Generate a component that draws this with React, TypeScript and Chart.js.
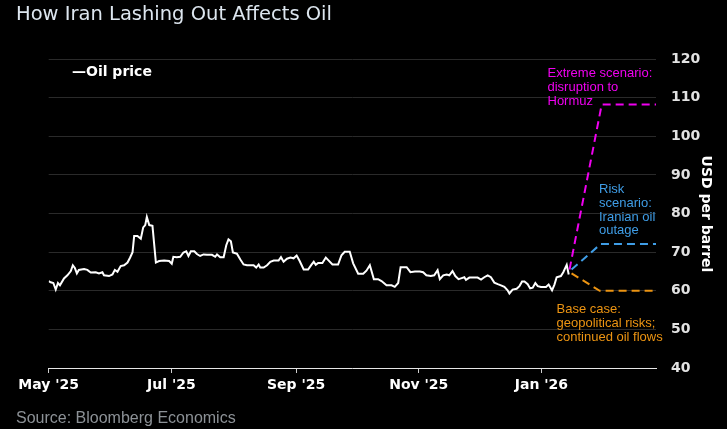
import React, { useEffect, useRef } from "react";
import { Chart, registerables } from "chart.js";

Chart.register(...registerables);

// ---- Data ----
const TITLE = "How Iran Lashing Out Affects Oil";
const SOURCE = "Source: Bloomberg Economics";
const Y_TITLE = "USD per barrel";
const LEGEND_LABEL = "\u2014Oil price";

// days since 1 May 2025
const xTickDays = [0, 61, 123, 184, 245];
const xTickLabels = ["May '25", "Jul '25", "Sep '25", "Nov '25", "Jan '26"];
const xMin = 0;
const xMax = 302;
const yMin = 40;
const yMax = 120;
const yStep = 10;

const oilDay = [
  0, 1, 2.3, 3.5, 4.6, 5.6, 7.6, 9.3, 11, 12, 13, 14, 15, 17.6, 19.2, 20.9, 23.4, 25, 26.7, 27.5,
  30, 31.7, 32.9, 34.2, 35.8, 37.5, 39.2, 40.5, 41.7, 42.5, 44.1, 45.8, 47, 48, 48.8, 50, 51.6,
  53.3, 54.9, 57.4, 59.9, 61.2, 62, 63.7, 65.4, 67, 68.4, 69.5, 70.7, 72.4, 73.7, 75.3, 77, 78.7,
  81.2, 82.8, 83.7, 85.3, 87, 88.3, 89.4, 90.6, 91.6, 93.6, 95.3, 96.9, 98.6, 101.9, 103.2, 104.4,
  105.2, 106.9, 108.6, 110.2, 111.9, 114.3, 115.5, 116.8, 118.5, 120.2, 121.8, 123.3, 124.8,
  126.8, 129, 130.6, 131.8, 132.8, 134, 136.1, 137.8, 138.9, 141.1, 143.9, 145.6, 147.2, 149.7,
  151.4, 153.9, 156.4, 158, 159.7, 161.7, 163.8, 165.5, 168, 170.5, 172.1, 173.8, 175, 178,
  179.9, 182.1, 184.6, 186.2, 187.8, 190, 191.7, 193.4, 194.5, 196.2, 197.9, 199.2, 200.8,
  202.2, 203.8, 205, 206.7, 207.5, 209.2, 211.7, 213.3, 215, 216.6, 218.3, 219.9, 221.6, 223.3,
  224.9, 226.6, 228.2, 229.1, 230.7, 232.7, 234.1, 235.4, 236.6, 238.2, 239.4, 240.7, 242,
  243.2, 244.8, 247.3, 248.6, 250.3, 251.5, 252.6, 254.7, 255.9, 257.6, 258.6,
];
const oilPrice = [
  62.5, 62.2, 62.0, 60.3, 62.0, 61.4, 63.2, 64.0, 65.1, 66.6, 65.9, 64.5, 65.4, 65.6, 65.4, 64.7,
  64.8, 64.5, 64.8, 64.0, 63.8, 64.2, 65.4, 64.9, 66.4, 66.6, 67.3, 68.6, 70.0, 74.2, 74.2, 73.5,
  76.4, 77.0, 79.1, 77.0, 76.8, 67.3, 67.7, 67.8, 67.7, 67.0, 68.8, 68.7, 68.8, 69.9, 70.2, 69.0,
  70.2, 70.2, 69.5, 69.0, 69.4, 69.3, 69.3, 68.8, 69.4, 68.7, 68.7, 71.8, 73.3, 72.8, 69.9, 69.6,
  68.1, 66.8, 66.6, 66.6, 66.0, 66.8, 66.0, 66.0, 66.6, 67.5, 67.8, 67.8, 68.7, 67.5, 68.3, 68.6,
  68.4, 69.1, 67.7, 65.5, 65.5, 66.7, 67.5, 66.7, 67.2, 67.2, 68.6, 68.0, 66.8, 66.8, 69.2, 70.1,
  70.1, 67.1, 64.4, 64.4, 65.2, 66.6, 63.0, 63.0, 62.5, 61.4, 61.4, 61.0, 62.0, 66.1, 66.1, 64.8,
  65.0, 65.0, 64.8, 64.0, 63.8, 64.0, 65.3, 63.0, 64.0, 64.2, 64.0, 65.1, 63.8, 63.0, 63.2, 63.5,
  62.8, 63.4, 63.4, 63.4, 62.9, 63.5, 64.0, 63.5, 62.1, 61.7, 61.4, 61.0, 60.1, 59.3, 60.3, 60.5,
  61.2, 62.4, 62.4, 61.7, 60.6, 60.8, 62.0, 61.2, 61.0, 61.0, 61.6, 60.1, 61.6, 63.5, 63.8, 64.8,
  66.7, 64.2,
];

const extremeDay = [259, 275, 302];
const extremePrice = [65.5, 108.2, 108.2];
const riskDay = [260, 274.5, 302];
const riskPrice = [65.5, 72.1, 72.1];
const baseDay = [260, 274, 302];
const basePrice = [64.5, 60.0, 60.0];

const extremeNote = ["Extreme scenario:", "disruption to", "Hormuz"];
const riskNote = ["Risk", "scenario:", "Iranian oil", "outage"];
const baseNote = ["Base case:", "geopolitical risks;", "continued oil flows"];

// ---- Styles ----
const W = 727;
const H = 429;
const MAGENTA = "#f000f0";
const BLUE = "#3f9de6";
const ORANGE = "#ec9412";

const pts = (xs: number[], ys: number[]) => xs.map((x, i) => ({ x, y: ys[i] }));

const textPlugin = {
  id: "textPlugin",
  afterDraw(chart: any) {
    const ctx: CanvasRenderingContext2D = chart.ctx;
    ctx.save();
    ctx.textAlign = "left";
    ctx.textBaseline = "alphabetic";

    ctx.fillStyle = "#dde6ef";
    ctx.font = '19.5px "DejaVu Sans"';
    ctx.fillText(TITLE, 16, 19.5);

    ctx.fillStyle = "#ffffff";
    ctx.font = 'bold 14px "DejaVu Sans"';
    ctx.fillText(LEGEND_LABEL, 72, 75.5);

    ctx.fillStyle = "#8c9196";
    ctx.font = '16px "Liberation Sans"';
    ctx.fillText(SOURCE, 16, 423);

    const lh = 13.9;
    ctx.font = '13px "Liberation Sans"';
    ctx.fillStyle = MAGENTA;
    extremeNote.forEach((t, i) => ctx.fillText(t, 547.5, 77.3 + i * lh));
    ctx.fillStyle = BLUE;
    riskNote.forEach((t, i) => ctx.fillText(t, 599, 192.7 + i * lh));
    ctx.fillStyle = ORANGE;
    baseNote.forEach((t, i) => ctx.fillText(t, 556.5, 313.3 + i * lh));

    ctx.translate(705.5, 214);
    ctx.rotate(Math.PI / 2);
    ctx.textAlign = "center";
    ctx.textBaseline = "middle";
    ctx.fillStyle = "#ffffff";
    ctx.font = 'bold 14px "DejaVu Sans"';
    ctx.fillText(Y_TITLE, 0, 0);
    ctx.restore();
  },
};

export default function App() {
  const ref = useRef<HTMLCanvasElement | null>(null);

  useEffect(() => {
    document.body.style.background = "#000";
    const canvas = ref.current;
    if (!canvas) return;
    const dashed = (data: any, color: string) => ({
      data,
      borderColor: color,
      borderWidth: 2,
      borderDash: [8, 5],
      pointRadius: 0,
      fill: false,
      tension: 0,
    });
    const chart = new Chart(canvas, {
      type: "line",
      data: {
        datasets: [
          dashed(pts(extremeDay, extremePrice), MAGENTA),
          dashed(pts(riskDay, riskPrice), BLUE),
          dashed(pts(baseDay, basePrice), ORANGE),
          {
            data: pts(oilDay, oilPrice),
            borderColor: "#ffffff",
            borderWidth: 2,
            pointRadius: 0,
            fill: false,
            tension: 0,
          },
        ],
      },
      options: {
        animation: false,
        responsive: false,
        maintainAspectRatio: false,
        layout: { padding: { left: 48.7, top: 59, right: 0, bottom: 0 } },
        plugins: {
          legend: { display: false },
          title: { display: false },
          tooltip: { enabled: false },
        },
        scales: {
          x: {
            type: "linear",
            min: xMin,
            max: xMax,
            afterBuildTicks: (scale: any) => {
              scale.ticks = xTickDays.map((v) => ({ value: v }));
            },
            afterFit: (scale: any) => {
              scale.height = 61;
            },
            ticks: {
              autoSkip: false,
              maxRotation: 0,
              padding: 4,
              color: "#ffffff",
              font: { family: "DejaVu Sans", size: 14, weight: "bold" },
              callback: (v: any) => {
                const i = xTickDays.indexOf(Number(v));
                return i >= 0 ? xTickLabels[i] : "";
              },
            },
            grid: {
              display: true,
              drawOnChartArea: false,
              drawTicks: true,
              tickLength: 5,
              color: "#cfcfcf",
            },
            border: { display: true, color: "#e6e6e6", width: 1 },
          },
          y: {
            position: "right",
            min: yMin,
            max: yMax,
            afterFit: (scale: any) => {
              scale.width = 71;
            },
            ticks: {
              stepSize: yStep,
              padding: 15,
              color: "#e2e2e2",
              font: { family: "DejaVu Sans", size: 14, weight: "bold" },
            },
            grid: { color: "#2a2a2a", drawTicks: false, lineWidth: 1 },
            border: { display: false },
          },
        },
      },
      plugins: [textPlugin],
    } as any);
    return () => chart.destroy();
  }, []);

  return (
    <div
      style={{
        position: "fixed",
        left: 0,
        top: 0,
        width: W,
        height: H,
        background: "#000",
      }}
    >
      <canvas ref={ref} width={W} height={H} style={{ width: W, height: H, display: "block" }} />
    </div>
  );
}
